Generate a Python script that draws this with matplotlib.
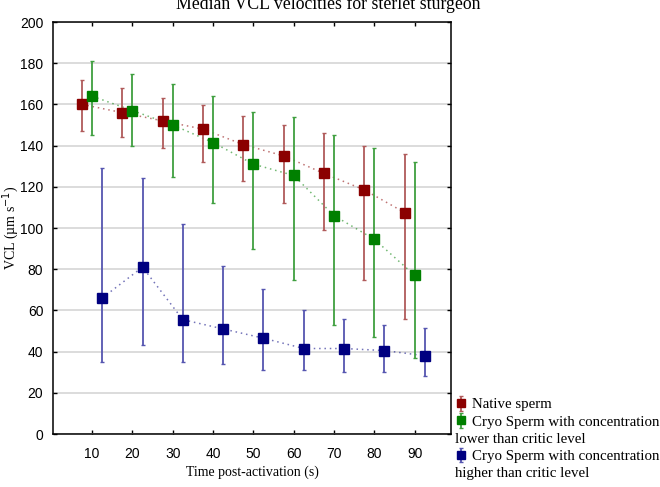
#!/usr/bin/env python3
"""Median VCL velocities for sterlet sturgeon (error bar chart)."""

import matplotlib
matplotlib.use("Agg")
import matplotlib.pyplot as plt
from matplotlib.lines import Line2D

SERIF = "Liberation Serif"
SANS = "Liberation Sans"

# x positions are shifted a little per series, like in the source figure
TIME_NATIVE = [7.5, 17.5, 27.5, 37.5, 47.5, 57.5, 67.5, 77.5, 87.5]
TIME_LOW = [10, 20, 30, 40, 50, 60, 70, 80, 90]
TIME_HIGH = [12.5, 22.5, 32.5, 42.5, 52.5, 62.5, 72.5, 82.5, 92.5]

# median VCL and whisker bounds (um/s)
NATIVE = [160, 156, 152, 148, 140.5, 135, 126.5, 118.5, 107.5]
NATIVE_LO = [147, 144, 139, 132, 123, 112, 99, 75, 56]
NATIVE_HI = [172, 168, 163, 159.5, 154.5, 150, 146, 140, 136]

CRYO_LOW = [164, 157, 150, 141.5, 131, 125.5, 106, 94.5, 77]
CRYO_LOW_LO = [145, 140, 125, 112, 90, 75, 53, 47, 37]
CRYO_LOW_HI = [181, 175, 170, 164, 156.5, 154, 145, 139, 132]

CRYO_HIGH = [66, 81, 55.5, 51, 46.5, 41.5, 41.5, 40.5, 38]
CRYO_HIGH_LO = [35, 43, 35, 34, 31, 31, 30, 30, 28]
CRYO_HIGH_HI = [129, 124.5, 102, 81.5, 70.5, 60, 56, 53, 51.5]

SERIES = [
    ("Native sperm", TIME_NATIVE, NATIVE, NATIVE_LO, NATIVE_HI,
     "#8b0000", "#b05a5a"),
    ("Cryo Sperm with concentration", TIME_LOW, CRYO_LOW, CRYO_LOW_LO,
     CRYO_LOW_HI, "#008000", "#3f9f3f"),
    ("Cryo Sperm with concentration", TIME_HIGH, CRYO_HIGH, CRYO_HIGH_LO,
     CRYO_HIGH_HI, "#000080", "#5555b0"),
]
CONTINUATION = [None, "lower than critic level", "higher than critic level"]

X_TICKS = [10, 20, 30, 40, 50, 60, 70, 80, 90]
Y_TICKS = [0, 20, 40, 60, 80, 100, 120, 140, 160, 180, 200]

LEGEND_SIZE = 10.7


def draw_series(ax, x, y, lo, hi, color, bar_color):
    """Dotted median line plus square markers with whiskers."""
    yerr = [[v - a for v, a in zip(y, lo)], [b - v for v, b in zip(y, hi)]]
    ax.plot(x, y, linestyle=(0, (1, 2.5)), color=color, alpha=0.55, lw=1.1,
            zorder=2)
    return ax.errorbar(x, y, yerr=yerr, fmt="s", color=color,
                       markersize=7, markeredgecolor=color,
                       ecolor=bar_color, elinewidth=1.3, capsize=1.5,
                       capthick=1, linestyle="none", zorder=3)


def main():
    fig = plt.figure(figsize=(6.6, 4.87), dpi=100)
    ax = fig.add_axes([53 / 660, 1 - 434 / 487, 398 / 660, 412 / 487])

    handles = []
    for label, x, y, lo, hi, color, bar_color in SERIES:
        handles.append(draw_series(ax, x, y, lo, hi, color, bar_color))

    ax.set_xlim(0.3, 99)
    ax.set_ylim(0, 200)
    ax.set_xticks(X_TICKS)
    ax.set_yticks(Y_TICKS)
    ax.yaxis.grid(True, color="#dcdcdc", lw=1.4)
    ax.set_axisbelow(True)
    ax.tick_params(direction="in", length=3, width=1, top=True, right=True,
                   labelsize=10)
    ax.tick_params(axis="x", pad=9)
    ax.tick_params(axis="y", pad=7)
    for lab in ax.get_xticklabels() + ax.get_yticklabels():
        lab.set_fontfamily(SANS)
    for spine in ax.spines.values():
        spine.set_linewidth(1.1)

    ax.set_xlabel("Time post-activation (s)", fontfamily=SERIF, fontsize=10)
    ax.xaxis.set_label_coords(0.5, -(466 - 434) / 412)
    ax.set_ylabel("VCL (µm s$^{-1}$)", fontfamily=SERIF, fontsize=10)
    ax.yaxis.set_label_coords(-(53 - 21) / 398, 0.5)
    fig.text(0.497, 1 - 9 / 487, "Median VCL velocities for sterlet sturgeon",
             ha="center", va="baseline", fontfamily=SERIF, fontsize=12.8)

    # legend: second text line of the cryo entries hangs under the marker
    blank = Line2D([], [], linestyle="none")
    leg_handles, leg_labels = [], []
    for h, (label, *_), extra in zip(handles, SERIES, CONTINUATION):
        leg_handles.append(h)
        leg_labels.append(label)
        if extra:
            leg_handles.append(blank)
            leg_labels.append(extra)
    leg = fig.legend(leg_handles, leg_labels, loc="upper left",
                     bbox_to_anchor=(455 / 660, 1 - 398 / 487),
                     frameon=False, handlelength=0.85, handletextpad=0.3,
                     borderpad=0, borderaxespad=0, labelspacing=0.26,
                     markerscale=0.75,
                     prop={"family": SERIF, "size": LEGEND_SIZE})

    fig.canvas.draw()
    to_fig = fig.transFigure.inverted()
    x_left = leg.get_window_extent().x0
    for text in leg.get_texts():
        if text.get_text() in CONTINUATION:
            bb = text.get_window_extent()
            fx, fy = to_fig.transform((x_left, bb.y0))
            fig.text(fx, fy, text.get_text(), ha="left", va="bottom",
                     fontfamily=SERIF, fontsize=LEGEND_SIZE)
            text.set_text("")

    fig.savefig("out.png", dpi=100)


if __name__ == "__main__":
    main()
